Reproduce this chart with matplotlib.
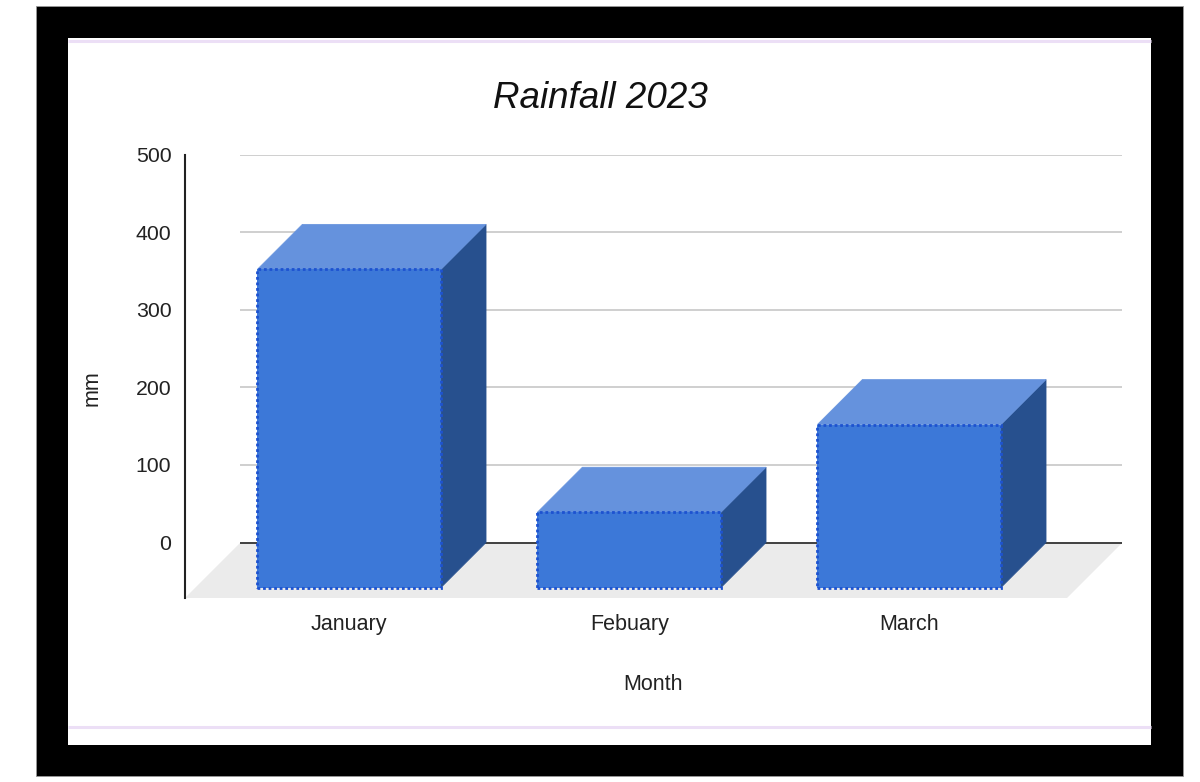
import matplotlib
matplotlib.use("Agg")
import matplotlib.pyplot as plt
from matplotlib.patches import Rectangle, Polygon

# ---- data ----
months = ["January", "Febuary", "March"]
rainfall_mm = [410, 97, 210]
y_ticks = [0, 100, 200, 300, 400, 500]
title = "Rainfall 2023"
x_label = "Month"
y_label = "mm"

# ---- style ----
W, H = 1200, 782
plt.rcParams['font.family'] = ['Liberation Sans', 'DejaVu Sans']
FRONT = '#3c78d8'
TOP = '#6592dd'
SIDE = '#27508e'
EDGE = '#1d52d0'
FLOOR = '#ebebeb'
GRID = '#cccccc'
AXIS = '#333333'

fig = plt.figure(figsize=(W / 100, H / 100), dpi=100)
fig.patch.set_facecolor('white')

def fx(px):
    return px / W

def fy(py):
    return 1 - py / H

# outer frame (drawn on a background axes)
bg = fig.add_axes([0, 0, 1, 1])
bg.set_xlim(0, W)
bg.set_ylim(H, 0)
bg.axis('off')
bg.set_zorder(0)
bg.add_patch(Rectangle((36, 6), 1183 - 36, 776 - 6, facecolor='black', edgecolor='#999999', lw=0.6))
bg.add_patch(Rectangle((68, 38), 1151 - 68, 745 - 38, facecolor='white', edgecolor='none'))
for yy in (41, 727):
    bg.plot([68, 1151], [yy, yy], color='#ecdff6', lw=2.2, solid_capstyle='butt')

# axes region (back plane of the 3D plot)
ax_l, ax_r, ax_t, ax_b = 184.5, 1122.5, 154.5, 597.5
ax = fig.add_axes([fx(ax_l), fy(ax_b), (ax_r - ax_l) / W, (ax_b - ax_t) / H])
ax.set_facecolor('none')
ax.set_zorder(2)

spacing_px = 280.0
back_center0_px = 394.2
px_per_unit_y = (542.5 - ax_t) / 500.0
xlim = ((ax_l - back_center0_px) / spacing_px, (ax_r - back_center0_px) / spacing_px)
ylim = (-(ax_b - 542.5) / px_per_unit_y, 500)
ax.set_xlim(*xlim)
ax.set_ylim(*ylim)

# depth offsets in data units
bar_depth_px = 45.0
floor_depth_px = 56.0
bdx = bar_depth_px / spacing_px
bdy = bar_depth_px / px_per_unit_y
fdx = floor_depth_px / spacing_px
fdy = floor_depth_px / px_per_unit_y
bar_w = 183.7 / spacing_px

# floor
ax.add_patch(Polygon([(xlim[0] + fdx, 0), (xlim[1], 0), (xlim[1] - fdx, -fdy), (xlim[0], -fdy)],
                     closed=True, facecolor=FLOOR, edgecolor='none', zorder=1))
# gridlines on back wall
ax.hlines([t for t in y_ticks if t != 0], xlim[0] + fdx, xlim[1], colors=GRID, lw=1.3, zorder=1.5)
ax.hlines([0], xlim[0] + fdx, xlim[1], colors=AXIS, lw=1.3, zorder=1.6)

# 3D bars
for i, v in enumerate(rainfall_mm):
    xl, xr = i - bar_w / 2, i + bar_w / 2
    # side face
    ax.add_patch(Polygon([(xr - bdx, -bdy), (xr, 0), (xr, v), (xr - bdx, v - bdy)],
                         closed=True, facecolor=SIDE, edgecolor=SIDE, lw=0.5, zorder=3))
    # top face
    ax.add_patch(Polygon([(xl - bdx, v - bdy), (xr - bdx, v - bdy), (xr, v), (xl, v)],
                         closed=True, facecolor=TOP, edgecolor=TOP, lw=0.5, zorder=3))
    # front face
    ax.add_patch(Rectangle((xl - bdx, -bdy), bar_w, v, facecolor=FRONT, edgecolor='none', zorder=4))
    ax.add_patch(Rectangle((xl - bdx, -bdy), bar_w, v, facecolor='none', edgecolor=EDGE,
                           lw=2.0, linestyle=(0, (1.0, 1.0)), zorder=5))

# axes styling
for s in ('top', 'right', 'bottom'):
    ax.spines[s].set_visible(False)
ax.spines['left'].set_color('#222222')
ax.spines['left'].set_linewidth(1.5)

ax.set_yticks(y_ticks)
ax.set_yticklabels([str(t) for t in y_ticks])
ax.tick_params(axis='y', length=0, pad=9.5, labelsize=15.3, labelcolor='#222222')
ax.set_xticks([i - bdx for i in range(len(months))])
ax.set_xticklabels(months)
ax.tick_params(axis='x', length=0, pad=12, labelsize=15.5, labelcolor='#222222')

ax.set_xlabel(x_label, fontsize=15.5, color='#222222', labelpad=28)
ax.set_ylabel(y_label, fontsize=15.5, color='#222222', va='center')
ax.yaxis.set_label_coords((92 - ax_l) / (ax_r - ax_l), (ax_b - 388) / (ax_b - ax_t))

fig.text(0.5, fy(99), title, ha='center', va='center', fontsize=26.5, style='italic',
         color='#111111', zorder=3)

fig.savefig('out.png', dpi=100)
